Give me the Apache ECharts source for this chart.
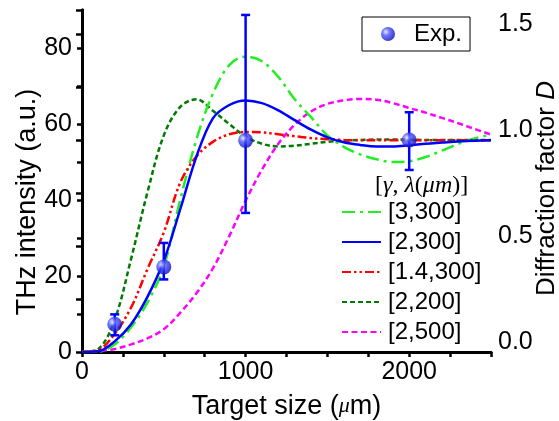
<!DOCTYPE html>
<html><head><meta charset="utf-8">
<script src="https://cdn.jsdelivr.net/npm/echarts@6/dist/echarts.min.js"></script>
<style>html,body{margin:0;padding:0;background:#fff}#c{width:559px;height:421px}</style>
</head><body><div id="c"></div>
<script>
// x grid (target size, um)
const xs = [0,100,200,300,400,500,600,700,800,900,1000,1100,1200,1300,1400,1500,1600,1700,1800,1900,2000,2100,2200,2300,2400,2500];
// model curves [gamma, lambda(um)]
const g3_300  = [0,0.1,2,6.5,13,22.5,40,56,68,75.5,77.7,76.5,72.4,66.5,61.8,57,54,52,50.7,50,50.2,51.3,53,54.8,56.2,57.2];
const g2_300  = [0,0.2,2.8,7.3,14.5,24,37.5,51.5,61.5,65,66.2,65.5,63.6,61,58.5,56.5,55.2,54.5,54.1,54.1,54.4,54.8,55.1,55.4,55.6,55.7];
const g14_300 = [0,0.5,4.8,11.7,21.8,31.5,44.5,51.5,55.3,57.3,57.9,57.8,57.3,56.8,56.3,56,55.8,55.7,55.7,55.7,55.7,55.7,55.7,55.7,55.7,55.7];
const g2_200  = [0,0.8,8.5,24.5,42,57,64.5,66.5,63.5,60,56.7,54.8,54.1,54.3,54.8,55.3,55.6,55.8,55.9,55.9,55.9,55.8,55.8,55.8,55.8,55.8];
const g2_500  = [0,0.2,0.8,2,3.6,6,10.3,15.5,22,30.5,39.8,48,54.8,59.8,63.3,65.3,66.2,66.6,66.4,65.5,64.2,63,61.6,60.2,58.7,57.2];
// experiment
const expX = [200,500,1000,2000];
const expY = [7.3,22.4,55.7,55.8];
const expLow = [4.4,19.1,36.6,47.9];
const expHigh = [9.9,28.7,88.7,63.1];
// tick labels
const leftTicks = [0,20,40,60,80];
const rightTicks = [0.0,0.5,1.0,1.5];
const bottomTicks = [0,1000,2000];
const seriesNames = ['[3,300]','[2,300]','[1.4,300]','[2,200]','[2,500]'];

const F = 'Liberation Sans';
const chart = echarts.init(document.getElementById('c'));
const axisLine = {show:true, lineStyle:{color:'#000', width:3}};
const tickStyle = {color:'#000', width:2.5};
const labelStyle = {fontSize:25, fontFamily:F, color:'#000'};
const near = (a,b)=>Math.abs(a-b)<1e-6;
const pairs = arr => xs.map((x,i)=>[x, arr[i]]);
const sphere = {type:'radial', x:0.35, y:0.35, r:0.75, colorStops:[
  {offset:0, color:'#e8e8ff'},{offset:0.35, color:'#4a55ff'},{offset:1, color:'#0000b0'}]};
function lineSeries(name, data, color, dash){
  return {type:'line', name, data:pairs(data), xAxisIndex:0, yAxisIndex:0,
    symbol:'none', showSymbol:false, smooth:0.35, z:3,
    lineStyle:{color, width:2.5, type:dash}, itemStyle:{color}};
}
const option = {
  animation:false,
  backgroundColor:'#fff',
  grid:{left:82, right:68, top:10, bottom:69, containLabel:false, outerBoundsMode:'none'},
  xAxis:[
    {type:'value', min:0, max:2500, interval:500, position:'bottom', axisLine,
     axisTick:{show:true, inside:false, length:5, lineStyle:tickStyle},
     axisLabel:Object.assign({margin:8, formatter:v=>bottomTicks.some(t=>near(t,v))?String(v):''}, labelStyle),
     splitLine:{show:false},
     name:'Target size ({mu|μ}m)', nameLocation:'middle', nameGap:41, nameMoveOverlap:false,
     nameTextStyle:{fontSize:27, fontFamily:F, color:'#000',
       rich:{mu:{fontSize:22, fontStyle:'italic', fontFamily:'Liberation Serif', color:'#000'}}}},
    {type:'value', min:0, max:2500, interval:250, position:'top', axisLine,
     axisTick:{show:true, inside:true, length:5, lineStyle:tickStyle},
     axisLabel:{show:false}, splitLine:{show:false}}
  ],
  yAxis:[
    {type:'value', min:0, max:90, interval:10, position:'left', axisLine,
     axisTick:{show:true, inside:false, length:5, lineStyle:tickStyle},
     axisLabel:Object.assign({margin:10, formatter:v=>leftTicks.some(t=>near(t,v))?String(v):''}, labelStyle),
     splitLine:{show:false},
     name:'THz intensity (a.u.)', nameLocation:'middle', nameRotate:90, nameGap:41, nameMoveOverlap:false,
     nameTextStyle:{fontSize:27, fontFamily:F, color:'#000', padding:[0,42,0,0]}},
    {type:'value', min:0, max:90/55.8, interval:0.25, position:'right', axisLine,
     axisTick:{show:true, inside:true, length:6, lineStyle:tickStyle},
     axisLabel:Object.assign({margin:7, verticalAlign:'bottom', lineHeight:19, formatter:v=>rightTicks.some(t=>near(t,v))?v.toFixed(1):''}, labelStyle),
     splitLine:{show:false},
     name:'Diffraction factor {i|D}', nameLocation:'middle', nameRotate:90, nameGap:43, nameMoveOverlap:false,
     nameTextStyle:{fontSize:26, fontFamily:F, color:'#000', padding:[0,15,0,0],
       rich:{i:{fontSize:26, fontStyle:'italic', fontFamily:F, color:'#000'}}}}
  ],
  legend:[
    {data:['Exp.'], left:362, top:17, orient:'horizontal', borderColor:'#000', borderWidth:1,
     padding:[5,8,5,19], itemWidth:14, itemHeight:14, itemGap:0,
     textStyle:{fontSize:24, fontFamily:F, color:'#000', padding:[0,0,0,14]}},
    {data:seriesNames, left:341, top:200, orient:'vertical', itemWidth:39, itemHeight:20, itemGap:6,
     padding:0, itemStyle:{opacity:0, color:'rgba(0,0,0,0)', borderWidth:0},
     textStyle:{fontSize:24, fontFamily:F, color:'#000', padding:[0,0,0,2]}}
  ],
  graphic:[
    {type:'text', left:375, top:174, z:10, style:{
      text:'{b|[}{i|γ}{b|, }{i|λ}{b|(}{i|μm}{b|)]}',
      rich:{
        b:{fontSize:24, fontFamily:'Liberation Serif', fill:'#000', color:'#000'},
        i:{fontSize:24, fontFamily:'Liberation Serif', fontStyle:'italic', fill:'#000', color:'#000'}
      }}}
  ],
  series:[
    lineSeries(seriesNames[4], g2_500, '#ff00ff', [6,3.5]),
    lineSeries(seriesNames[3], g2_200, '#007a00', [5,3]),
    lineSeries(seriesNames[0], g3_300, '#22ee22', [13,5,3,5]),
    lineSeries(seriesNames[2], g14_300, '#ff0000', [9,3,2.5,3,2.5,3]),
    Object.assign(lineSeries(seriesNames[1], g2_300, '#0000ff', 'solid'), {z:4}),
    {type:'custom', name:'errbars', xAxisIndex:0, yAxisIndex:0, z:5,
     data:expX.map((x,i)=>[x, expLow[i], expHigh[i]]),
     encode:{x:0, y:[1,2]},
     renderItem:(params, api)=>{
       const x = api.value(0);
       const lo = api.coord([x, api.value(1)]);
       const hi = api.coord([x, api.value(2)]);
       const w = 4.5;
       const st = {stroke:'#0000ff', lineWidth:2.5};
       return {type:'group', children:[
         {type:'line', shape:{x1:lo[0], y1:lo[1], x2:hi[0], y2:hi[1]}, style:st},
         {type:'line', shape:{x1:lo[0]-w, y1:lo[1], x2:lo[0]+w, y2:lo[1]}, style:st},
         {type:'line', shape:{x1:hi[0]-w, y1:hi[1], x2:hi[0]+w, y2:hi[1]}, style:st}
       ]};
     }},
    {type:'scatter', name:'Exp.', xAxisIndex:0, yAxisIndex:0, z:6,
     data:expX.map((x,i)=>[x, expY[i]]), symbol:'circle', symbolSize:15,
     itemStyle:{color:sphere}}
  ]
};
chart.setOption(option);
</script></body></html>
